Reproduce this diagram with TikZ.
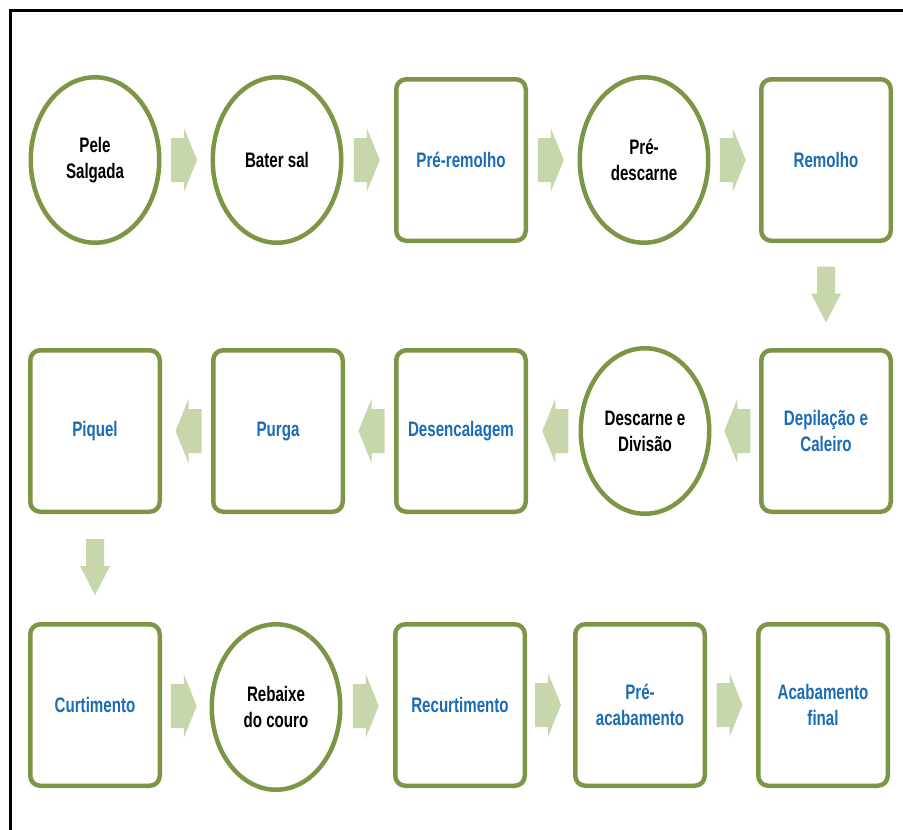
\documentclass[tikz,border=0pt]{standalone}
\usepackage{fontspec}
\setmainfont{Liberation Sans}[FakeStretch=0.72]
\usetikzlibrary{shapes.geometric,calc}

\definecolor{olive}{RGB}{124,150,70}
\definecolor{arrowgreen}{RGB}{200,214,172}
\definecolor{stepblue}{RGB}{26,108,180}

% block arrows placed halfway between two steps
\newcommand\flowR[2]{%
  \path ($(#1.east)!0.5!(#2.west)$) coordinate (m);
  \begin{scope}[shift={(m)}]
    \fill[arrowgreen] (-15,-22) -- (-2,-22) -- (-2,-32) -- (11,0) -- (-2,32) -- (-2,22) -- (-15,22) -- cycle;
  \end{scope}}
\newcommand\flowL[2]{%
  \path ($(#1.west)!0.5!(#2.east)$) coordinate (m);
  \begin{scope}[shift={(m)}]
    \fill[arrowgreen] (15,-22) -- (2,-22) -- (2,-32) -- (-11,0) -- (2,32) -- (2,22) -- (15,22) -- cycle;
  \end{scope}}
\newcommand\flowD[2]{%
  \path ($(#1.south)!0.5!(#2.north)$) coordinate (m);
  \begin{scope}[shift={(m)}]
    \fill[arrowgreen] (-9,-29) -- (9,-29) -- (9,-2) -- (15,-2) -- (0,27) -- (-15,-2) -- (-9,-2) -- cycle;
  \end{scope}}

\begin{document}
\begin{tikzpicture}[x=1pt,y=-1pt,
  every node/.style={font=\bfseries\fontsize{21}{26}\selectfont, align=center, inner sep=2pt},
  stepbox/.style={rectangle, rounded corners=10pt, draw=olive, line width=4.5pt, fill=white,
    minimum width=129.5pt, minimum height=161.5pt, text=stepblue},
  stepround/.style={ellipse, draw=olive, line width=4.5pt, fill=white,
    minimum width=128.5pt, minimum height=165.5pt, text=black}]
  \useasboundingbox (0,0) rectangle (903,830);
  \fill[white] (0,0) rectangle (903,830);

  % frame
  \draw[line width=2.2pt] (903,10.5) -- (10.5,10.5) -- (10.5,830);

  % first row
  \node[stepround] (pele)  at (95,160)  {Pele\\Salgada};
  \node[stepround] (bater) at (277,160) {Bater sal};
  \node[stepbox]   (prer)  at (461,160) {Pré-remolho};
  \node[stepround] (pred)  at (644,160) {Pré-\\descarne};
  \node[stepbox]   (rem)   at (826,160) {Remolho};

  % second row
  \node[stepbox]   (piq)   at (95,431)  {Piquel};
  \node[stepbox]   (pur)   at (278,431) {Purga};
  \node[stepbox]   (des)   at (461,431) {Desencalagem};
  \node[stepround] (desc)  at (645,431) {Descarne e\\Divisão};
  \node[stepbox]   (dep)   at (826,431) {Depilação e\\Caleiro};

  % third row
  \node[stepbox]   (cur)   at (95,705)  {Curtimento};
  \node[stepround] (reb)   at (276,707) {Rebaixe\\do couro};
  \node[stepbox]   (recur) at (460,705) {Recurtimento};
  \node[stepbox]   (preac) at (640,705) {Pré-\\acabamento};
  \node[stepbox]   (acab)  at (823,705) {Acabamento\\final};

  \flowR{pele}{bater}
  \flowR{bater}{prer}
  \flowR{prer}{pred}
  \flowR{pred}{rem}
  \flowD{rem}{dep}
  \flowL{dep}{desc}
  \flowL{desc}{des}
  \flowL{des}{pur}
  \flowL{pur}{piq}
  \flowD{piq}{cur}
  \flowR{cur}{reb}
  \flowR{reb}{recur}
  \flowR{recur}{preac}
  \flowR{preac}{acab}
\end{tikzpicture}
\end{document}
